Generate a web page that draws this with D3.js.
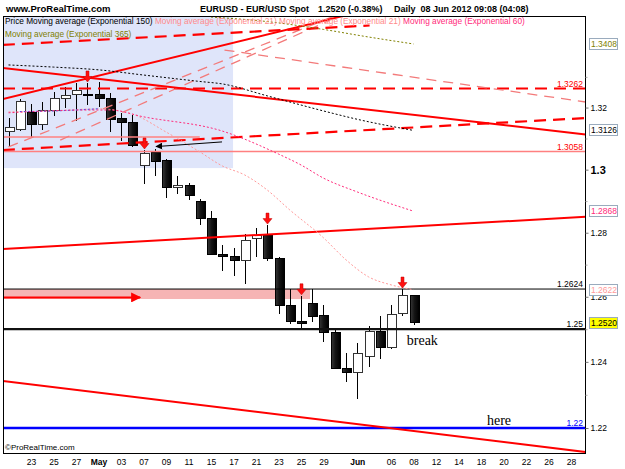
<!DOCTYPE html>
<html>
<head>
<meta charset="utf-8">
<script src="https://cdn.jsdelivr.net/npm/d3@7"></script>
<style>
  body { margin: 0; background: #fff; }
  svg { display: block; font-family: "Liberation Sans", Arial, sans-serif; }
</style>
</head>
<body>
<svg id="grafico" width="625" height="469"></svg>
<script>
const ancho = 625;
const alto = 469;

// sesiones diarias (19 abr - 08 jun 2012)
const fechas = ["19 Apr","20 Apr","23 Apr","24 Apr","25 Apr","26 Apr","27 Apr","30 Apr",
  "01 May","02 May","03 May","04 May","07 May","08 May","09 May","10 May","11 May",
  "14 May","15 May","16 May","17 May","18 May","21 May","22 May","23 May","24 May","25 May",
  "28 May","29 May","30 May","31 May","01 Jun","04 Jun","05 Jun","06 Jun","07 Jun","08 Jun"];

const apertura = [1.3124,1.3128,1.3183,1.3144,1.3190,1.3228,1.3241,1.3243,1.3241,1.3230,1.3163,1.3151,
  1.3012,1.3054,1.3028,1.2944,1.2951,1.2900,1.2846,1.2733,1.2724,1.2712,1.2781,1.2790,1.2718,1.2572,
  1.2525,1.2578,1.2541,1.2489,1.2380,1.2368,1.2416,1.2492,1.2444,1.2547,1.2603];
const maximo = [1.3166,1.3228,1.3212,1.3219,1.3249,1.3267,1.3280,1.3280,1.3283,1.3248,1.3183,1.3176,
  1.3063,1.3066,1.3034,1.2980,1.2957,1.2907,1.2869,1.2762,1.2752,1.2796,1.2815,1.2824,1.2724,1.2624,
  1.2603,1.2624,1.2575,1.2504,1.2428,1.2458,1.2510,1.2541,1.2575,1.2624,1.2606];
const minimo = [1.3073,1.3124,1.3105,1.3128,1.3173,1.3199,1.3158,1.3209,1.3203,1.3122,1.3093,1.3074,
  1.2954,1.2980,1.2910,1.2923,1.2904,1.2824,1.2730,1.2680,1.2666,1.2640,1.2725,1.2712,1.2547,1.2516,
  1.2503,1.2523,1.2462,1.2378,1.2338,1.2287,1.2383,1.2408,1.2438,1.2541,1.2514];
const cierre = [1.3134,1.3219,1.3144,1.3190,1.3228,1.3239,1.3255,1.3239,1.3230,1.3160,1.3151,1.3079,
  1.3053,1.3026,1.2944,1.2951,1.2917,1.2846,1.2733,1.2724,1.2712,1.2777,1.2790,1.2718,1.2572,1.2523,
  1.2518,1.2539,1.2489,1.2380,1.2368,1.2427,1.2492,1.2444,1.2546,1.2603,1.2520];

// medias exponenciales: [indice de sesion, precio]
const ema150 = [[-2,1.3339],[2,1.3332],[6,1.3323],[10,1.3306],[15,1.3285],[17,1.3277],[21,1.3238],[26,1.3189],[29,1.3162],[34,1.3126]];
const ema21 = [[-2,1.3186],[2,1.3189],[6,1.3196],[9,1.3179],[12,1.3121],[15,1.3057],[17,1.3012],[19,1.2983],[21,1.2935],[23,1.2872],[26,1.2784],[28,1.2715],[30,1.2662],[32,1.2637],[34,1.2622]];
const tramoAzul = [[-1,1.3187],[2,1.3189],[6,1.3196]];
const ema60 = [[-2,1.3183],[5,1.3192],[7,1.3192],[10,1.3170],[17,1.3124],[22,1.3050],[24,1.3015],[26,1.2973],[29,1.2929],[34,1.2868]];
const ema365 = [[16,1.3497],[21,1.3482],[26,1.3456],[30,1.3431],[34,1.3408]];

// lineas de tendencia dibujadas: [[indice, precio], [indice, precio]]
const lineasSolidas = [
  [[-2.5,1.3329],[49.3,1.3113]],
  [[-2.5,1.3228],[27.8,1.3501]],
  [[-2.5,1.2749],[49.3,1.2850]],
  [[-2.5,1.2342],[49.3,1.2128]]
];
const lineasGuiones = [
  [[-2.5,1.3405],[30.1,1.3469]],
  [[-2.5,1.3063],[49.3,1.3166]]
];
const lineasFinas = [
  [[-2.0,1.3073],[27.0,1.3501]],
  [[2.6,1.3095],[26.6,1.3487]],
  [[17.2,1.3388],[49.3,1.3218]]
];

const niveles = [1.3262, 1.3058, 1.2624, 1.25, 1.22];
const textoNiveles = ["1.3262", "1.3058", "1.2624", "1.25", "1.22"];

const flechas = [5, 10, 21, 24, 33];

const ticksY = [1.22, 1.24, 1.26, 1.28, 1.30, 1.32];
const ticksMenores = [1.23, 1.25, 1.27, 1.29, 1.31, 1.33];

const posicionesX = [0,2,4,6,8,10,12,14,16,18,20,22,24,26,29,32,34,36,38,40,42,44,46,48];
const etiquetasX = ["23","25","27","May","03","07","09","11","15","17","21","23","25","29","Jun","06","08","12","14","18","20","22","26","28"];

const leyenda1 = ["Price Moving average (Exponential 150)", "Moving average (Exponential 21)", "Moving average (Exponential 21)", "Moving average (Exponential 60)"];
const leyenda2 = "Moving average (Exponential 365)";

// ---------------------------------------------------------------
const izq = 3, der = 585.5, arriba = 16, abajo = 453;

const x = d3.scaleLinear().domain([0, 48]).range([31, 571]);
const y = d3.scaleLog().domain([1.22, 1.3262]).range([428, 88.5]);

const svg = d3.select("#grafico");
const defs = svg.append("defs");

defs.append("clipPath").attr("id", "recorte")
  .append("rect").attr("x", izq).attr("y", arriba).attr("width", der - izq).attr("height", abajo - arriba);

function marcador(id, color, tam) {
  defs.append("marker")
    .attr("id", id)
    .attr("viewBox", "0 0 10 10")
    .attr("refX", 9).attr("refY", 5)
    .attr("markerWidth", tam).attr("markerHeight", tam)
    .attr("markerUnits", "userSpaceOnUse")
    .attr("orient", "auto")
    .append("path").attr("d", "M0,0L10,5L0,10z").attr("fill", color);
}
marcador("puntaRoja", "#ff0000", 10);
marcador("puntaNegra", "#000000", 7);

const grad = defs.append("linearGradient").attr("id", "velaNegra");
grad.append("stop").attr("offset", "0%").attr("stop-color", "#3a3a3a");
grad.append("stop").attr("offset", "50%").attr("stop-color", "#141414");
grad.append("stop").attr("offset", "100%").attr("stop-color", "#000");

const g = svg.append("g").attr("clip-path", "url(#recorte)");

// zona sombreada
g.append("rect")
  .attr("x", izq).attr("y", arriba)
  .attr("width", x(17.96) - izq)
  .attr("height", y(1.3005) - arriba)
  .attr("fill", "#dfe5fa");

// banda rosa de resistencia
g.append("rect")
  .attr("x", izq).attr("y", y(1.2624))
  .attr("width", x(24.8) - izq)
  .attr("height", y(1.2593) - y(1.2624))
  .attr("fill", "#f6b4b4");

// velas
const velas = fechas.map((f, i) => ({
  fecha: f, i: i - 2, o: apertura[i], h: maximo[i], l: minimo[i], c: cierre[i]
}));

const gVelas = g.append("g").attr("shape-rendering", "crispEdges");
gVelas.selectAll("line.mecha").data(velas).join("line")
  .attr("class", "mecha")
  .attr("x1", d => Math.round(x(d.i)) + 0.5).attr("x2", d => Math.round(x(d.i)) + 0.5)
  .attr("y1", d => y(d.h)).attr("y2", d => y(d.l))
  .attr("stroke", "#000").attr("stroke-width", 1);

gVelas.selectAll("rect.cuerpo").data(velas).join("rect")
  .attr("class", "cuerpo")
  .attr("x", d => Math.round(x(d.i)) - 4)
  .attr("width", 9)
  .attr("y", d => Math.min(y(d.o), y(d.c)))
  .attr("height", d => Math.max(1.5, Math.abs(y(d.o) - y(d.c))))
  .attr("fill", d => d.c >= d.o ? "#ffffff" : "url(#velaNegra)")
  .attr("stroke", d => d.c >= d.o ? "#333" : "#000")
  .attr("stroke-width", 1);

// niveles horizontales
const estiloNivel = {
  1.3262: { color: "#ff0000", ancho: 2, guion: "12,7", texto: "#ff0000" },
  1.3058: { color: "#ff8080", ancho: 1.6, guion: null, texto: "#ff0000" },
  1.2624: { color: "#000000", ancho: 1, guion: null, texto: "#000000" },
  1.25:   { color: "#111111", ancho: 2.2, guion: null, texto: "#000000" },
  1.22:   { color: "#0000ff", ancho: 2.6, guion: null, texto: "#0000ff" }
};

g.selectAll("line.nivel").data(niveles).join("line")
  .attr("class", "nivel")
  .attr("x1", izq).attr("x2", der)
  .attr("y1", d => y(d)).attr("y2", d => y(d))
  .attr("stroke", d => estiloNivel[d].color)
  .attr("stroke-width", d => estiloNivel[d].ancho)
  .attr("stroke-dasharray", d => estiloNivel[d].guion);

// tramo corto claro
g.append("line")
  .attr("x1", izq).attr("x2", x(15))
  .attr("y1", y(1.3105)).attr("y2", y(1.3105))
  .attr("stroke", "#ff8080").attr("stroke-width", 1.4);

const linea = d3.line().x(d => x(d[0])).y(d => y(d[1]));

g.selectAll("path.fina").data(lineasFinas).join("path")
  .attr("class", "fina")
  .attr("d", linea)
  .attr("fill", "none").attr("stroke", "#f37a7a").attr("stroke-width", 1.3)
  .attr("stroke-dasharray", "10,7");

g.selectAll("path.solida").data(lineasSolidas).join("path")
  .attr("class", "solida")
  .attr("d", linea)
  .attr("fill", "none").attr("stroke", "#ff0000").attr("stroke-width", 2);

g.selectAll("path.guiones").data(lineasGuiones).join("path")
  .attr("class", "guiones")
  .attr("d", linea)
  .attr("fill", "none").attr("stroke", "#ff0000").attr("stroke-width", 2.2)
  .attr("stroke-dasharray", "12,7");

// medias moviles
const curva = d3.line().x(d => x(d[0])).y(d => y(d[1])).curve(d3.curveMonotoneX);
const medias = [
  { datos: ema150, color: "#000000" },
  { datos: ema21, color: "#ff9a9a" },
  { datos: tramoAzul, color: "#3050ff" },
  { datos: ema60, color: "#ff2a7a" },
  { datos: ema365, color: "#808000" }
];
g.selectAll("path.media").data(medias).join("path")
  .attr("class", "media")
  .attr("d", d => curva(d.datos))
  .attr("fill", "none")
  .attr("stroke", d => d.color)
  .attr("stroke-width", 1)
  .attr("stroke-dasharray", "2,2");

// flechas
g.append("line")
  .attr("x1", izq).attr("x2", x(9.7))
  .attr("y1", y(1.2598)).attr("y2", y(1.2598))
  .attr("stroke", "#ff0000").attr("stroke-width", 2)
  .attr("marker-end", "url(#puntaRoja)");

g.append("line")
  .attr("x1", x(16.98)).attr("y1", y(1.3089))
  .attr("x2", x(11.11)).attr("y2", y(1.3074))
  .attr("stroke", "#000").attr("stroke-width", 1)
  .attr("marker-end", "url(#puntaNegra)");

g.selectAll("path.flecha").data(flechas).join("path")
  .attr("class", "flecha")
  .attr("transform", i => `translate(${Math.round(x(i)) + 0.5},${y(maximo[i + 2]) - 1})`)
  .attr("d", "M-1.5,-11H1.5V-5.5H4.5L0,0L-4.5,-5.5H-1.5Z")
  .attr("fill", "#ff1010")
  .attr("stroke", "#c00000")
  .attr("stroke-width", 0.5);

// textos del analista
g.append("text").attr("x", x(33.4)).attr("y", y(1.2452))
  .attr("font-family", "'Liberation Serif', 'Times New Roman', serif")
  .attr("font-size", 14).attr("fill", "#000").text("break");
g.append("text").attr("x", x(40.53)).attr("y", y(1.2209))
  .attr("font-family", "'Liberation Serif', 'Times New Roman', serif")
  .attr("font-size", 14).attr("fill", "#000").text("here");

// etiquetas de niveles
g.selectAll("text.nivel").data(niveles).join("text")
  .attr("class", "nivel")
  .attr("x", 583).attr("y", d => y(d) - 2)
  .attr("text-anchor", "end")
  .attr("font-size", 8.5)
  .attr("fill", (d) => estiloNivel[d].texto)
  .text((d, i) => textoNiveles[i]);

// leyendas
const colLeyenda = ["#000000", "#ff8a8a", "#ff8a8a", "#ff2a7a"];
const textoLeyenda = svg.append("text").attr("x", 5).attr("y", 24).attr("font-size", 8.3);
textoLeyenda.selectAll("tspan").data(leyenda1).join("tspan")
  .attr("fill", (d, i) => colLeyenda[i])
  .text(d => d + " ");
svg.append("text").attr("x", 5).attr("y", 37).attr("font-size", 8.3)
  .attr("fill", "#808000").text(leyenda2);

svg.append("text").attr("x", 5).attr("y", 450).attr("font-size", 8)
  .attr("fill", "#000").text("\u00a9ProRealTime.com");

// marco
svg.append("rect")
  .attr("x", izq + 0.5).attr("y", arriba + 0.5)
  .attr("width", der - izq - 0.5).attr("height", abajo - arriba)
  .attr("fill", "none").attr("stroke", "#000").attr("stroke-width", 1)
  .attr("shape-rendering", "crispEdges");

// eje Y
const ejeY = svg.append("g")
  .attr("transform", `translate(${der},0)`)
  .call(d3.axisRight(y).tickValues(ticksY).tickSize(3).tickPadding(2)
    .tickFormat(d => String(+d.toFixed(2))));
ejeY.select(".domain").remove();
ejeY.selectAll("line").attr("stroke", "#777");
ejeY.selectAll("text").attr("font-size", 8.5).attr("fill", "#000")
  .attr("font-family", "'Liberation Sans', Arial, sans-serif");
ejeY.selectAll(".tick").filter(d => Math.abs(d - 1.3) < 1e-9).select("text")
  .attr("font-size", 11).attr("font-weight", "bold");

const ejeMenor = svg.append("g")
  .attr("transform", `translate(${der},0)`)
  .call(d3.axisRight(y).tickValues(ticksMenores).tickSize(2).tickFormat(""));
ejeMenor.select(".domain").remove();
ejeMenor.selectAll("line").attr("stroke", "#aaa");

// cajas de valor actual
const cajas = [
  { v: ema365[ema365.length - 1][1], color: "#808000", fondo: "#fff" },
  { v: ema150[ema150.length - 1][1], color: "#000", fondo: "#fff" },
  { v: ema60[ema60.length - 1][1], color: "#ff2a7a", fondo: "#fff" },
  { v: ema21[ema21.length - 1][1], color: "#ff9a9a", fondo: "#fff" },
  { v: cierre[cierre.length - 1], color: "#000", fondo: "#ffff00" }
];
const gCajas = svg.selectAll("g.caja").data(cajas).join("g")
  .attr("class", "caja")
  .attr("transform", d => `translate(589.5,${Math.round(y(d.v)) - 5.5})`);
gCajas.append("rect")
  .attr("width", 28).attr("height", 11)
  .attr("fill", d => d.fondo)
  .attr("stroke", "#9aabbd").attr("stroke-width", 1);
gCajas.append("text")
  .attr("x", 1.5).attr("y", 8.6)
  .attr("font-size", 8.5)
  .attr("fill", d => d.color)
  .text(d => d.v.toFixed(4));

// eje X
const ejeX = svg.append("g")
  .attr("transform", `translate(0,${abajo})`)
  .call(d3.axisBottom(x).tickValues(posicionesX).tickSize(0).tickPadding(6)
    .tickFormat((d, i) => etiquetasX[i]));
ejeX.select(".domain").remove();
ejeX.selectAll("text").attr("font-size", 8.5).attr("fill", "#000")
  .attr("font-family", "'Liberation Sans', Arial, sans-serif")
  .attr("font-weight", (d, i) => isNaN(+etiquetasX[i]) ? "bold" : null);

// cabecera
svg.append("text").attr("x", 6).attr("y", 12)
  .attr("font-size", 9.5).attr("font-weight", "bold").text("www.ProRealTime.com");
const cabecera = [["EURUSD - EUR/USD Spot", 200], ["1.2520 (-0.38%)", 318], ["Daily  08 Jun 2012 09:08 (04:08)", 394]];
svg.selectAll("text.cab").data(cabecera).join("text")
  .attr("class", "cab")
  .attr("x", d => d[1]).attr("y", 12)
  .attr("font-size", 9).attr("font-weight", "bold")
  .attr("xml:space", "preserve")
  .style("white-space", "pre")
  .text(d => d[0]);
</script>
</body>
</html>
